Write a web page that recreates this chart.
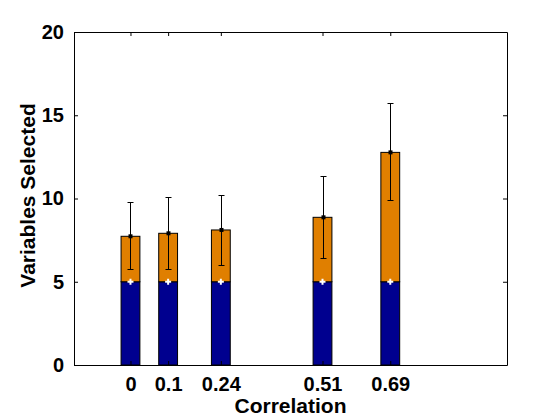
<!DOCTYPE html>
<html>
<head>
<meta charset="utf-8">
<script src="https://cdn.jsdelivr.net/npm/d3@7"></script>
<style>
  html, body { margin: 0; padding: 0; background: #fff; }
  text { font-family: 'Liberation Sans', Arial, sans-serif; font-weight: bold; }
</style>
</head>
<body>
<main></main>
<script>
const correlations = [0, 0.1, 0.24, 0.51, 0.69];
const tickLabels = ['0', '0.1', '0.24', '0.51', '0.69'];
const baseSelected = [5, 5, 5, 5, 5];
const totalSelected = [7.73, 7.91, 8.11, 8.87, 12.77];
const errLow = [5.75, 5.75, 5.99, 6.41, 9.89];
const errHigh = [9.77, 10.07, 10.19, 11.33, 15.73];
const yTicks = [0, 5, 10, 15, 20];

const dimensions = {
  width: 560,
  height: 420,
  margin: { top: 32, right: 53, bottom: 55, left: 74 },
};
dimensions.boundedWidth =
  dimensions.width - (dimensions.margin.left + dimensions.margin.right);
dimensions.boundedHeight =
  dimensions.height - (dimensions.margin.top + dimensions.margin.bottom);

const data = correlations.map((c, i) => ({
  c,
  label: tickLabels[i],
  base: baseSelected[i],
  total: totalSelected[i],
  lo: errLow[i],
  hi: errHigh[i],
}));

const svg = d3
  .select('main')
  .append('svg')
  .attr('width', dimensions.width)
  .attr('height', dimensions.height)
  .style('display', 'block');

const bounds = svg
  .append('g')
  .attr('transform', `translate(${dimensions.margin.left} ${dimensions.margin.top})`);

const xScale = d3
  .scaleLinear()
  .domain([-0.15, 1])
  .range([0, dimensions.boundedWidth]);

const yScale = d3
  .scaleLinear()
  .domain([0, 20])
  .range([dimensions.boundedHeight, 0]);

const barWidth = xScale(0.05) - xScale(0);

// bars: blue base, orange on top
const bars = bounds.append('g');
bars
  .selectAll('rect.base')
  .data(data)
  .join('rect')
  .attr('class', 'base')
  .attr('x', d => xScale(d.c) - barWidth / 2)
  .attr('width', barWidth)
  .attr('y', d => yScale(d.base))
  .attr('height', d => yScale(0) - yScale(d.base))
  .attr('fill', '#00008f')
  .attr('stroke', '#000')
  .attr('stroke-width', 1);

bars
  .selectAll('rect.top')
  .data(data)
  .join('rect')
  .attr('class', 'top')
  .attr('x', d => xScale(d.c) - barWidth / 2)
  .attr('width', barWidth)
  .attr('y', d => yScale(d.total))
  .attr('height', d => yScale(d.base) - yScale(d.total))
  .attr('fill', '#e07f00')
  .attr('stroke', '#000')
  .attr('stroke-width', 1);

// white markers on the base
const plus = bounds.append('g');
data.forEach(d => {
  const x = xScale(d.c);
  const y = yScale(d.base);
  plus
    .append('path')
    .attr('d', `M ${x - 3} ${y} h 6 M ${x} ${y - 3} v 6`)
    .attr('stroke', '#fff')
    .attr('stroke-width', 2);
});

// error bars
const err = bounds.append('g').attr('stroke', '#000').attr('stroke-width', 1);
data.forEach(d => {
  const x = Math.round(xScale(d.c)) + 0.5;
  const yl = Math.round(yScale(d.lo)) + 0.5;
  const yh = Math.round(yScale(d.hi)) + 0.5;
  err.append('path').attr('d', `M ${x} ${yl} V ${yh}`);
  err.append('path').attr('d', `M ${x - 3} ${yl} h 6 M ${x - 3} ${yh} h 6`);
  err
    .append('rect')
    .attr('x', x - 2)
    .attr('y', yScale(d.total) - 2)
    .attr('width', 4)
    .attr('height', 4)
    .attr('fill', '#000')
    .attr('stroke', 'none');
});

// axes box with inward ticks
const axisGroup = bounds.append('g');
const tickLen = 4;

const xBottom = d3
  .axisBottom(xScale)
  .tickValues(correlations)
  .tickFormat((d, i) => tickLabels[i])
  .tickSizeInner(-tickLen)
  .tickSizeOuter(0)
  .tickPadding(12);
const xTop = d3
  .axisTop(xScale)
  .tickValues(correlations)
  .tickFormat('')
  .tickSizeInner(-tickLen)
  .tickSizeOuter(0);
const yLeft = d3
  .axisLeft(yScale)
  .tickValues(yTicks)
  .tickSizeInner(-tickLen)
  .tickSizeOuter(0)
  .tickPadding(10);
const yRight = d3
  .axisRight(yScale)
  .tickValues(yTicks)
  .tickFormat('')
  .tickSizeInner(-tickLen)
  .tickSizeOuter(0);

axisGroup
  .append('g')
  .attr('transform', `translate(0 ${dimensions.boundedHeight})`)
  .call(xBottom);
axisGroup.append('g').call(xTop);
axisGroup.append('g').call(yLeft);
axisGroup
  .append('g')
  .attr('transform', `translate(${dimensions.boundedWidth} 0)`)
  .call(yRight);

axisGroup.selectAll('path.domain').attr('stroke', '#000');
axisGroup.selectAll('line').attr('stroke', '#000');
axisGroup
  .selectAll('text')
  .attr('fill', '#000')
  .attr('font-size', 20)
  .attr('font-weight', 'bold')
  .attr('font-family', "'Liberation Sans', Arial, sans-serif");

// axis labels
bounds
  .append('text')
  .attr('x', dimensions.boundedWidth / 2)
  .attr('y', dimensions.boundedHeight + 48)
  .attr('text-anchor', 'middle')
  .attr('font-size', 21)
  .text('Correlation');

bounds
  .append('text')
  .attr('transform', `translate(-39 ${dimensions.boundedHeight / 2 - 3}) rotate(-90)`)
  .attr('text-anchor', 'middle')
  .attr('font-size', 21)
  .text('Variables Selected');
</script>
</body>
</html>
